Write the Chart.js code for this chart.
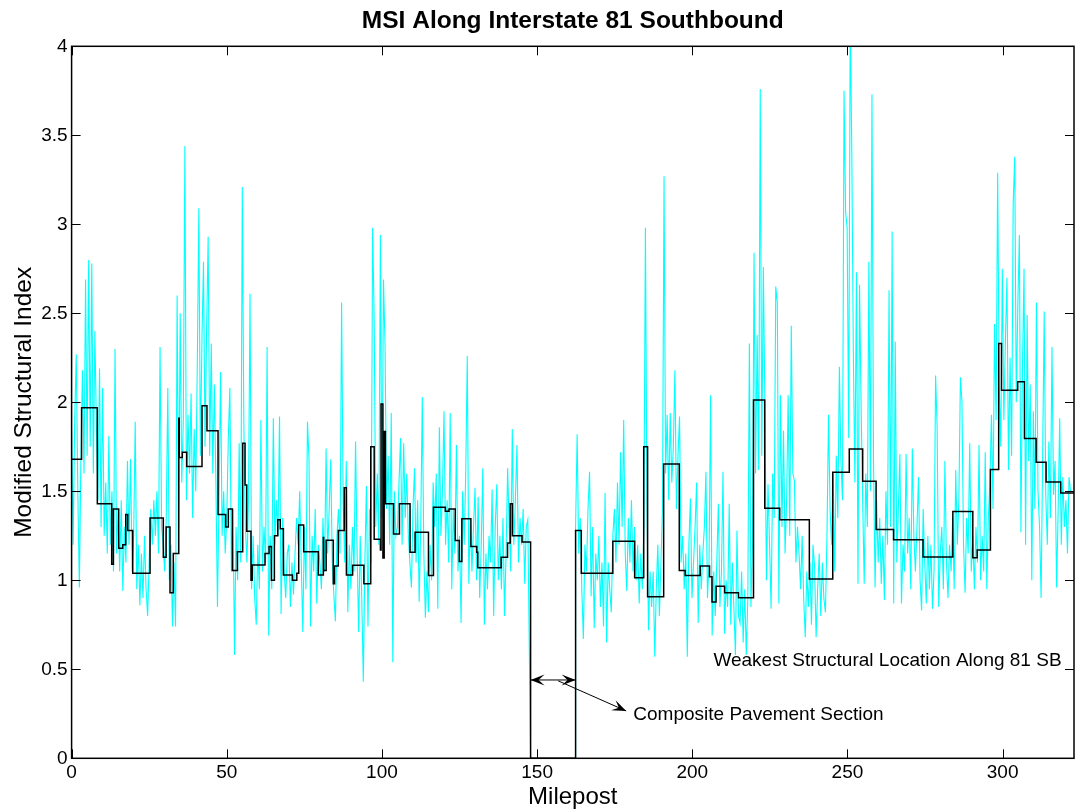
<!DOCTYPE html>
<html>
<head>
<meta charset="utf-8">
<title>MSI Along Interstate 81 Southbound</title>
<script src="https://cdn.jsdelivr.net/npm/chart.js@4.4.0/dist/chart.umd.min.js"></script>
<style>
    html, body { margin: 0; padding: 0; background: #fff; }
    canvas { display: block; }
</style>
</head>
<body>
<canvas id="graficaMsi" width="1075" height="809"></canvas>
<script>
// Etiquetas de los ejes
const xTickValues = [0, 50, 100, 150, 200, 250, 300];
const yTickValues = [0, 0.5, 1, 1.5, 2, 2.5, 3, 3.5, 4];

// MSI medido (cian), una lectura cada media milla
const sampleStep = 0.5;
const northStart = 0;
const msiNorth = [
    1.85, 1.20, 1.90, 2.27, 1.50, 0.96, 1.70, 2.18, 1.60, 2.69,
    1.70, 2.80, 1.75, 2.78, 1.60, 2.40, 1.85, 1.45, 2.19, 1.30,
    2.08, 1.25, 1.55, 1.15, 1.81, 1.20, 1.50, 1.05, 2.30, 1.15,
    1.40, 1.05, 1.45, 0.94, 1.30, 1.10, 1.67, 1.20, 1.68, 1.05,
    1.25, 1.89, 0.95, 1.20, 0.86, 1.15, 0.90, 1.25, 0.95, 0.80,
    1.10, 1.40, 1.20, 1.45, 1.25, 1.50, 1.15, 2.31, 1.30, 1.20,
    1.05, 1.35, 2.08, 1.00, 1.20, 0.74, 1.10, 0.74, 2.60, 1.30,
    2.50, 1.55, 1.90, 3.44, 1.45, 1.93, 1.60, 2.05, 1.35, 1.85,
    1.50, 2.20, 3.09, 1.70, 2.35, 2.79, 1.75, 2.40, 2.93, 1.70,
    2.33, 1.60, 2.10, 1.55, 0.85, 1.45, 2.17, 1.25, 1.50, 1.15,
    1.35, 1.80, 2.08, 1.05, 1.40, 0.58, 1.30, 1.00, 1.77, 1.10,
    3.21, 1.88, 1.30, 1.10, 1.45, 2.61, 0.95, 1.25, 0.90, 0.75,
    1.20, 0.95, 1.90, 1.05, 1.30, 1.10, 2.31, 0.69, 1.25, 0.95,
    1.91, 1.20, 1.45, 1.25, 1.92, 0.81, 1.35, 1.05, 0.90, 1.15,
    1.20, 0.85, 1.10, 0.92, 1.15, 1.35, 1.20, 1.50, 1.10, 0.71,
    1.30, 0.95, 1.89, 1.68, 0.74, 1.25, 1.05, 1.40, 0.87, 1.20,
    1.10, 0.95, 1.35, 1.05, 1.74, 1.15, 1.40, 1.68, 1.10, 0.92,
    0.77, 1.25, 1.40, 1.15, 2.56, 1.45, 1.10, 1.67, 0.82, 1.20,
    0.95, 1.30, 1.05, 1.78, 1.15, 0.71, 1.25, 0.90, 0.43, 1.10,
    1.53, 0.74, 1.40, 1.10, 2.98, 2.46, 1.30, 1.60, 1.20, 2.94,
    1.35, 2.69, 2.32, 1.40, 1.70, 1.20, 1.94, 0.54, 1.50, 1.25,
    1.30, 1.55, 1.80, 1.20, 1.77, 1.35, 1.60, 1.25, 1.10, 0.96,
    1.40, 1.63, 1.10, 1.45, 0.88, 1.30, 2.03, 1.15, 0.79, 1.05,
    0.82, 1.20, 1.00, 1.55, 1.30, 1.60, 0.84, 1.86, 1.25, 1.50,
    1.95, 1.20, 1.45, 1.10, 1.94, 0.95, 1.40, 1.15, 1.76, 1.05,
    1.25, 0.76, 1.50, 1.20, 1.60, 2.26, 0.98, 1.35, 1.05, 1.30,
    1.52, 1.00, 1.47, 0.90, 1.20, 1.63, 0.75, 1.15, 0.95, 1.25,
    1.10, 1.51, 0.80, 1.30, 1.54, 1.00, 1.25, 0.95, 1.35, 0.80,
    1.15, 1.63, 1.30, 1.05, 1.85, 1.20, 1.45, 1.76, 1.10, 1.35,
    1.20, 1.40, 0.98, 1.30, 1.34
];
const southStart = 162.4;
const msiSouth = [
    1.30, 1.82, 1.15, 1.35, 0.95, 0.67, 1.20, 1.05, 1.40, 1.61,
    0.91, 1.30, 0.73, 1.15, 1.00, 1.25, 0.85, 1.10, 0.74, 1.49,
    0.65, 1.10, 0.95, 0.82, 1.25, 1.40, 1.10, 1.55, 1.20, 1.72,
    1.30, 1.90, 1.15, 0.94, 1.35, 1.10, 1.45, 1.05, 1.30, 1.00,
    1.20, 0.87, 1.15, 0.95, 1.30, 2.98, 1.40, 0.72, 1.05, 0.85,
    1.05, 0.57, 0.95, 1.20, 0.80, 1.10, 1.40, 3.27, 1.60, 1.93,
    1.45, 1.94, 1.55, 1.75, 2.18, 1.40, 1.70, 1.92, 1.10, 1.25,
    0.95, 1.15, 0.57, 1.20, 1.46, 0.90, 1.10, 1.30, 1.55, 0.76,
    1.20, 0.95, 1.15, 1.30, 1.61, 0.90, 1.10, 2.04, 0.69, 1.05,
    0.80, 1.10, 1.43, 0.85, 1.05, 1.61, 0.70, 1.00, 0.85, 1.43,
    0.75, 1.10, 0.85, 0.58, 1.28, 0.80, 0.76, 1.05, 0.65, 0.95,
    0.58, 0.90, 2.33, 0.85, 1.20, 2.84, 1.60, 2.38, 1.62, 3.76,
    1.70, 2.76, 1.98, 1.00, 1.54, 1.20, 0.84, 1.60, 1.35, 2.65,
    2.56, 0.87, 2.04, 1.30, 1.84, 1.15, 1.45, 2.04, 1.25, 2.43,
    1.60, 1.56, 1.10, 1.30, 1.15, 0.95, 1.25, 0.90, 0.68, 1.05,
    0.85, 1.10, 0.75, 1.20, 1.08, 0.68, 0.95, 1.15, 0.80, 1.10,
    0.90, 0.82, 1.25, 1.93, 1.40, 1.20, 1.60, 1.05, 1.70, 1.35,
    2.20, 1.67, 1.45, 3.75, 3.07, 2.98, 1.80, 4.20, 3.40, 2.28,
    1.55, 2.73, 0.98, 2.66, 1.98, 1.45, 0.98, 1.60, 1.30, 2.79,
    1.50, 3.73, 1.67, 0.96, 1.45, 1.10, 1.35, 0.98, 1.25, 0.89,
    1.50, 1.20, 2.63, 1.30, 2.96, 0.87, 2.34, 1.10, 1.40, 1.71,
    0.87, 1.20, 1.05, 1.71, 1.15, 1.35, 0.95, 1.74, 1.25, 1.05,
    1.30, 1.58, 1.00, 0.83, 1.40, 1.10, 0.87, 1.25, 0.95, 1.20,
    0.84, 1.05, 2.15, 1.86, 0.85, 1.15, 1.30, 0.95, 1.67, 1.10,
    0.90, 1.20, 1.05, 1.35, 0.95, 1.62, 1.20, 1.45, 2.14, 2.00,
    1.20, 0.93, 1.35, 1.15, 1.77, 1.05, 1.25, 0.95, 1.30, 1.10,
    1.76, 1.00, 1.25, 1.05, 1.72, 0.95, 1.35, 1.55, 1.93, 1.40,
    2.44, 1.90, 3.29, 2.10, 1.75, 2.75, 1.90, 2.35, 2.70, 1.62,
    2.25, 1.70, 3.11, 3.38, 2.00, 2.55, 2.94, 1.27, 2.20, 2.75,
    1.20, 2.49, 1.67, 2.10, 1.00, 1.95, 1.40, 2.56, 1.50, 1.30,
    0.90, 1.70, 2.51, 1.48, 1.20, 1.78, 1.35, 2.31, 1.48, 1.67,
    0.96, 1.40, 1.91, 1.20, 1.58, 1.30, 1.45, 1.15, 1.58, 1.50
];

// Promedio por seccion (negro, escalonado): milla de inicio y valor
const sectionMileposts = [
    0, 3.22, 8.29, 12.92, 13.47, 15.18, 16.48, 17.44, 18.09, 19.70,
    25.28, 29.55, 30.46, 31.71, 32.77, 34.53, 34.68, 35.68, 37.09, 42.02,
    43.62, 47.19, 49.65, 50.51, 51.82, 53.42, 55.13, 55.89, 56.44, 57.80,
    58.20, 62.32, 63.63, 64.38, 65.34, 66.44, 67.25, 68.25, 71.17, 72.57,
    73.18, 74.78, 79.51, 81.12, 81.22, 82.02, 84.33, 84.73, 85.94, 87.85,
    88.55, 90.56, 94.18, 96.39, 97.50, 99.51, 99.71, 100.31, 100.72, 101.12,
    103.73, 105.64, 109.06, 110.67, 114.99, 116.60, 120.42, 121.62, 123.63, 124.94,
    125.75, 128.66, 130.57, 130.87, 138.41, 140.47, 141.33, 142.03, 145.15, 147.9,
    162.4, 164.24, 174.40, 181.43, 184.35, 185.60, 190.78, 195.81, 197.72, 202.54,
    205.56, 206.36, 207.67, 210.43, 214.90, 219.73, 223.35, 228.17, 237.72, 245.26,
    250.59, 254.91, 259.23, 264.86, 274.36, 283.96, 290.39, 291.80, 296.07, 298.73,
    299.64, 304.86, 307.03, 310.80, 314.01, 318.74, 323
];
const sectionMsi = [
    1.68, 1.97, 1.43, 1.09, 1.40, 1.18, 1.20, 1.37, 1.28, 1.04,
    1.35, 1.13, 1.30, 0.93, 1.15, 1.91, 1.69, 1.72, 1.64, 1.98,
    1.84, 1.37, 1.30, 1.40, 1.055, 1.16, 1.77, 1.535, 1.276, 1.00,
    1.086, 1.15, 1.19, 1.00, 1.25, 1.34, 1.29, 1.03, 1.00, 1.04,
    1.31, 1.16, 1.03, 1.24, 1.055, 1.225, 0.98, 1.08, 1.28, 1.52,
    1.03, 1.085, 0.98, 1.75, 1.23, 1.17, 1.99, 1.125, 1.836, 1.43,
    1.26, 1.43, 1.158, 1.27, 1.027, 1.41, 1.388, 1.40, 1.223, 1.105,
    1.346, 1.19, 1.158, 1.07, 1.13, 1.21, 1.43, 1.25, 1.215, 0,
    1.28, 1.04, 1.22, 1.015, 1.75, 0.907, 1.654, 1.055, 1.027, 1.08,
    1.02, 0.878, 0.966, 0.93, 0.902, 2.013, 1.405, 1.34, 1.008, 1.607,
    1.737, 1.557, 1.285, 1.228, 1.131, 1.387, 1.127, 1.17, 1.623, 2.33,
    2.068, 2.115, 1.796, 1.663, 1.552, 1.49, 1.49
];

// Seccion de pavimento compuesto
const compositeStart = 147.9;
const compositeEnd = 162.4;

const fuente = "'Liberation Sans', Arial, Helvetica, sans-serif";

function puntosMsi(start, values) {
    return values.map((v, i) => ({ x: start + i * sampleStep, y: v }));
}

const northPoints = puntosMsi(northStart, msiNorth);
northPoints.push({ x: compositeStart, y: 0 });
const southPoints = [{ x: compositeEnd, y: 0 }].concat(puntosMsi(southStart, msiSouth));
const sectionPoints = sectionMileposts.map((m, i) => ({ x: m, y: sectionMsi[i] }));

function flecha(ctx, tx, ty, ang) {
    ctx.save();
    ctx.translate(tx, ty);
    ctx.rotate(ang);
    ctx.beginPath();
    ctx.moveTo(0, 0);
    ctx.lineTo(-14, -5.5);
    ctx.lineTo(-8, 0);
    ctx.lineTo(-14, 5.5);
    ctx.closePath();
    ctx.fill();
    ctx.restore();
}

// Marco completo y marcas hacia adentro (estilo MATLAB)
const marcoPlugin = {
    id: 'marco',
    afterDatasetsDraw(chart) {
        const { ctx, chartArea: a, scales: { x, y } } = chart;
        ctx.save();
        ctx.strokeStyle = '#000';
        ctx.lineWidth = 1;
        ctx.beginPath();
        xTickValues.forEach(v => {
            const px = Math.round(x.getPixelForValue(v)) + 0.5;
            ctx.moveTo(px, a.bottom); ctx.lineTo(px, a.bottom - 9);
            ctx.moveTo(px, a.top); ctx.lineTo(px, a.top + 9);
        });
        yTickValues.forEach(v => {
            const py = Math.round(y.getPixelForValue(v)) + 0.5;
            ctx.moveTo(a.left, py); ctx.lineTo(a.left + 9, py);
            ctx.moveTo(a.right, py); ctx.lineTo(a.right - 9, py);
        });
        ctx.stroke();
        ctx.lineWidth = 1.5;
        ctx.strokeRect(a.left, a.top, a.right - a.left, a.bottom - a.top);
        ctx.restore();
    },
    afterDraw(chart) {
        const { ctx, scales: { x, y } } = chart;
        ctx.save();
        ctx.fillStyle = '#000';
        ctx.strokeStyle = '#000';
        ctx.lineWidth = 1;
        ctx.font = '19px ' + fuente;
        ctx.textBaseline = 'middle';
        ctx.textAlign = 'left';
        ctx.fillText('Weakest Structural Location Along 81 SB', x.getPixelForValue(206.8), y.getPixelForValue(0.55));
        ctx.fillText('Composite Pavement Section', x.getPixelForValue(181.0), y.getPixelForValue(0.243));

        // Doble flecha sobre la seccion compuesta
        const x1 = x.getPixelForValue(compositeStart), x2 = x.getPixelForValue(compositeEnd);
        const ya = y.getPixelForValue(0.44);
        ctx.beginPath();
        ctx.moveTo(x1, ya); ctx.lineTo(x2, ya);
        ctx.stroke();
        flecha(ctx, x1, ya, Math.PI);
        flecha(ctx, x2, ya, 0);

        // Flecha hacia la etiqueta
        const sx = x.getPixelForValue(156.8), sy = y.getPixelForValue(0.435);
        const ex = x.getPixelForValue(178.7), ey = y.getPixelForValue(0.266);
        ctx.beginPath();
        ctx.moveTo(sx, sy); ctx.lineTo(ex, ey);
        ctx.stroke();
        flecha(ctx, ex, ey, Math.atan2(ey - sy, ex - sx));
        ctx.restore();
    }
};

document.addEventListener('DOMContentLoaded', function () {
    const ctx = document.getElementById('graficaMsi').getContext('2d');
    new Chart(ctx, {
        type: 'line',
        data: {
            datasets: [
                {
                    label: 'Promedio por seccion',
                    data: sectionPoints,
                    borderColor: '#000000',
                    borderWidth: 1.5,
                    stepped: 'before',
                    pointRadius: 0,
                    fill: false,
                    order: 0
                },
                {
                    label: 'MSI norte',
                    data: northPoints,
                    borderColor: '#00ffff',
                    borderWidth: 1.1,
                    pointRadius: 0,
                    tension: 0,
                    fill: false,
                    order: 1
                },
                {
                    label: 'MSI sur',
                    data: southPoints,
                    borderColor: '#00ffff',
                    borderWidth: 1.1,
                    pointRadius: 0,
                    tension: 0,
                    fill: false,
                    order: 1
                }
            ]
        },
        options: {
            responsive: false,
            animation: false,
            devicePixelRatio: 1,
            layout: { padding: { top: 0, right: 1, left: 0, bottom: 0 } },
            plugins: {
                legend: { display: false },
                tooltip: { enabled: false },
                title: {
                    display: true,
                    fullSize: false,
                    text: 'MSI Along Interstate 81 Southbound',
                    color: '#000',
                    font: { family: fuente, size: 24.5, weight: 'bold', lineHeight: 1.2 },
                    padding: { top: 7, bottom: 9.9 }
                }
            },
            scales: {
                x: {
                    type: 'linear',
                    min: 0,
                    max: 323,
                    afterBuildTicks: s => { s.ticks = xTickValues.map(v => ({ value: v })); },
                    afterFit: s => { s.height = 50.7; },
                    grid: { display: false, drawTicks: false },
                    border: { display: false },
                    ticks: {
                        color: '#000',
                        font: { family: fuente, size: 19 },
                        padding: 3,
                        maxRotation: 0,
                        autoSkip: false,
                        callback: v => String(v)
                    },
                    title: {
                        display: true,
                        text: 'Milepost',
                        color: '#000',
                        font: { family: fuente, size: 24, lineHeight: 1 },
                        padding: { top: 0, bottom: 0 }
                    }
                },
                y: {
                    type: 'linear',
                    min: 0,
                    max: 4,
                    afterBuildTicks: s => { s.ticks = yTickValues.map(v => ({ value: v })); },
                    afterFit: s => { s.width = 71.6; },
                    grid: { display: false, drawTicks: false },
                    border: { display: false },
                    ticks: {
                        color: '#000',
                        font: { family: fuente, size: 19 },
                        padding: 4,
                        callback: v => String(v)
                    },
                    title: {
                        display: true,
                        text: 'Modified Structural Index',
                        color: '#000',
                        font: { family: fuente, size: 24.5, lineHeight: 1 },
                        padding: { top: 11.5, bottom: 0 }
                    }
                }
            }
        },
        plugins: [marcoPlugin]
    });
});
</script>
</body>
</html>
